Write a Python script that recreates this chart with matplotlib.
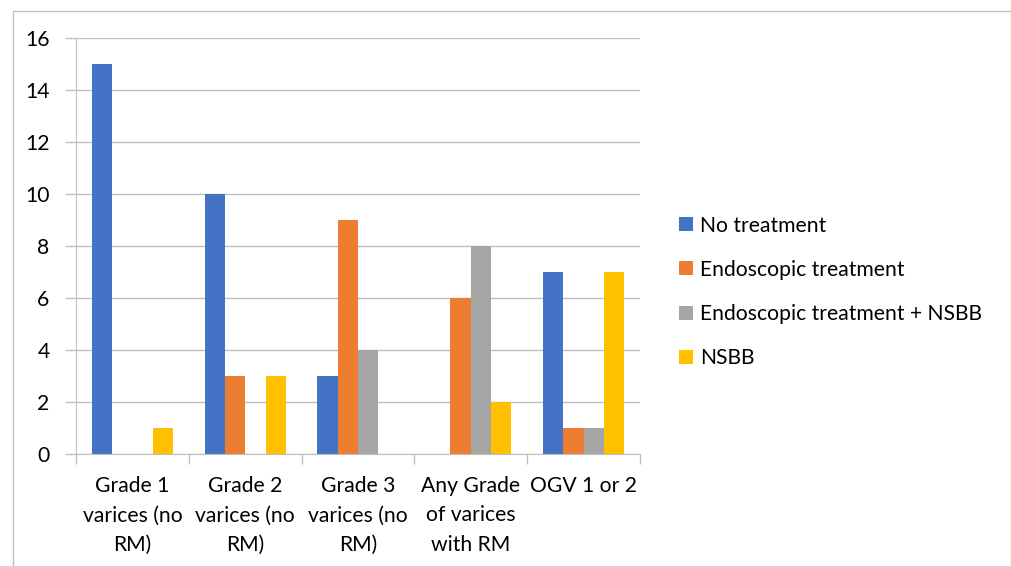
import numpy as np
import matplotlib
matplotlib.use("Agg")
from matplotlib import pyplot as plt
from matplotlib.patches import Rectangle

# data
categories = ["Grade 1\nvarices (no\nRM)", "Grade 2\nvarices (no\nRM)", "Grade 3\nvarices (no\nRM)",
              "Any Grade\nof varices\nwith RM", "OGV 1 or 2"]
series_names = ["No treatment", "Endoscopic treatment", "Endoscopic treatment + NSBB", "NSBB"]
no_treatment = [15, 10, 3, 0, 7]
endoscopic = [0, 3, 9, 6, 1]
endoscopic_nsbb = [0, 0, 4, 8, 1]
nsbb = [1, 3, 0, 2, 7]
colors = ["#4472C4", "#ED7D31", "#A5A5A5", "#FFC000"]

plt.rcParams["font.family"] = ["Lato", "DejaVu Sans"]
fs = 15.2

fig = plt.figure(figsize=(10.12, 5.66), dpi=100)
ax = fig.add_axes([0.0751, 0.198, 0.5573, 0.735])

# outer chart border
fig.patches.append(Rectangle((13 / 1012, -0.05), 998 / 1012, 1.05 - 11 / 566,
                             transform=fig.transFigure, fill=False,
                             edgecolor="#bfbfbf", linewidth=1))

x = np.arange(len(categories))
width = 0.18
all_series = [no_treatment, endoscopic, endoscopic_nsbb, nsbb]
for i, (vals, name) in enumerate(zip(all_series, series_names)):
    ax.bar(x + (i - 1.5) * width, vals, width, color=colors[i], label=name)

ax.set_xlim(-0.5, len(categories) - 0.5)
ax.set_ylim(0, 16)
ax.set_yticks(range(0, 17, 2))
ax.yaxis.grid(True, color="#bfbfbf", linewidth=1)
ax.set_axisbelow(True)

# category labels between boundary ticks
ax.set_xticks(x)
ax.set_xticklabels(categories, fontsize=fs, linespacing=1.58)
ax.tick_params(axis="x", length=0, pad=16)
ax.set_xticks(np.arange(-0.5, len(categories)), minor=True)
ax.tick_params(axis="x", which="minor", length=7, color="#bfbfbf", width=1)
ax.tick_params(axis="y", length=8, color="#bfbfbf", width=1, labelsize=fs, pad=11)

for side in ["top", "right"]:
    ax.spines[side].set_visible(False)
ax.spines["left"].set_color("#bfbfbf")
ax.spines["bottom"].set_color("#bfbfbf")

leg = ax.legend(loc="center left", bbox_to_anchor=(660 / 1012, 274 / 566),
                bbox_transform=fig.transFigure, frameon=False, fontsize=fs,
                handlelength=0.65, handleheight=0.65, handletextpad=0.35,
                labelspacing=1.15)

fig.savefig("out.png", dpi=100)
